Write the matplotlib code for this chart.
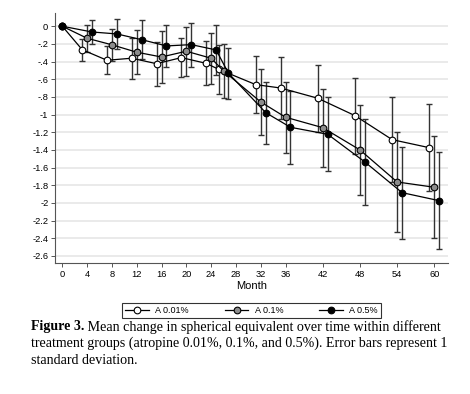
import matplotlib
matplotlib.use('Agg')
import matplotlib.pyplot as plt
import numpy as np

# data (change in SE, dioptres)
months = [0, 4, 8, 12, 16, 20, 24, 26, 32, 36, 42, 48, 54, 60]
tick_months = [0, 4, 8, 12, 16, 20, 24, 28, 32, 36, 42, 48, 54, 60]

a001_mean = [0, -0.265, -0.385, -0.362, -0.424, -0.355, -0.42, -0.487, -0.661, -0.699, -0.815, -1.012, -1.284, -1.375]
a001_sd = [0, 0.125, 0.16, 0.23, 0.25, 0.22, 0.25, 0.28, 0.32, 0.35, 0.38, 0.43, 0.48, 0.49]
a01_mean = [0, -0.136, -0.21, -0.294, -0.348, -0.283, -0.362, -0.506, -0.857, -1.03, -1.148, -1.40, -1.763, -1.823]
a01_sd = [0, 0.15, 0.18, 0.25, 0.29, 0.28, 0.29, 0.31, 0.37, 0.40, 0.44, 0.51, 0.57, 0.58]
a05_mean = [0, -0.065, -0.087, -0.152, -0.223, -0.208, -0.268, -0.532, -0.978, -1.144, -1.223, -1.537, -1.884, -1.975]
a05_sd = [0, 0.14, 0.17, 0.22, 0.24, 0.25, 0.28, 0.29, 0.35, 0.41, 0.42, 0.49, 0.52, 0.55]

labels = ['A 0.01%', 'A 0.1%', 'A 0.5%']
y_ticks = [0, -0.2, -0.4, -0.6, -0.8, -1, -1.2, -1.4, -1.6, -1.8, -2, -2.2, -2.4, -2.6]

caption_bold = 'Figure 3.'
caption_1 = ' Mean change in spherical equivalent over time within different'
caption_2 = 'treatment groups (atropine 0.01%, 0.1%, and 0.5%). Error bars represent 1'
caption_3 = 'standard deviation.'

plt.rcParams['font.family'] = ['Liberation Sans', 'DejaVu Sans']

def stata_label(v):
	# Stata style: -.2, -1, -1.2
	if v == 0:
		return '0'
	s = f'{v:g}'
	return s.replace('-0.', '-.')

fig = plt.figure(figsize=(4.7, 3.94), dpi=100)
ax = fig.add_axes([55.3/470, 1 - 262.7/394, (448 - 55.3)/470, (262.7 - 13)/394])

m = np.array(months, dtype=float)
series = [
	(a001_mean, a001_sd, 'white', -0.8),
	(a01_mean, a01_sd, '#8c8c8c', 0.0),
	(a05_mean, a05_sd, 'black', 0.8),
]
handles = []
for (mean, sd, fc, off), lab in zip(series, labels):
	x = np.where(m == 0, 0, m + off)
	ax.errorbar(x, mean, yerr=sd, fmt='none', ecolor='#333333', elinewidth=1.0,
		capsize=2.0, capthick=1.0, zorder=2)
	h, = ax.plot(x, mean, color='black', lw=0.9, marker='o', markersize=4.8,
		markerfacecolor=fc, markeredgecolor='black', markeredgewidth=0.8, label=lab, zorder=3)
	handles.append(h)

ax.set_xlim(-1.13, 62.2)
ax.set_ylim(-2.677, 0.15)
ax.set_xticks(tick_months)
ax.set_xticklabels([str(t) for t in tick_months])
ax.set_yticks(y_ticks)
ax.set_yticklabels([stata_label(v) for v in y_ticks])
ax.yaxis.grid(True, color='#e6e6e6', linewidth=1.2)
ax.set_axisbelow(True)
for s in ['top', 'right']:
	ax.spines[s].set_visible(False)
for s in ['left', 'bottom']:
	ax.spines[s].set_color('#555555')
	ax.spines[s].set_linewidth(0.8)
ax.tick_params(axis='both', labelsize=6.7, length=3, width=0.7, color='#555555', pad=2)
ax.set_xlabel('Month', fontsize=8, labelpad=2)

leg = fig.legend(handles=handles, labels=labels, loc='center', ncol=3,
	bbox_to_anchor=(251.5/470, 1 - 310.2/394), bbox_transform=fig.transFigure,
	fontsize=6.5, frameon=True, fancybox=False, edgecolor='black',
	borderpad=0.35, handlelength=2.6, handletextpad=0.7, columnspacing=4.0)
leg.get_frame().set_linewidth(0.8)

# caption
fig.canvas.draw()
r = fig.canvas.get_renderer()
cap_font = ['Liberation Serif', 'DejaVu Serif']
cap_size = 10.1
t = fig.text(30.7/470, 1 - 326.7/394, caption_bold, fontsize=cap_size, fontweight='bold',
	family=cap_font, va='center', ha='left')
bb = t.get_window_extent(renderer=r)
fig.text(bb.x1/470, 1 - 326.7/394, caption_1, fontsize=cap_size, family=cap_font, va='center', ha='left')
fig.text(30.7/470, 1 - 343.3/394, caption_2, fontsize=cap_size, family=cap_font, va='center', ha='left')
fig.text(30.7/470, 1 - 360/394, caption_3, fontsize=cap_size, family=cap_font, va='center', ha='left')

fig.savefig('out.png', dpi=100)
plt.close()
